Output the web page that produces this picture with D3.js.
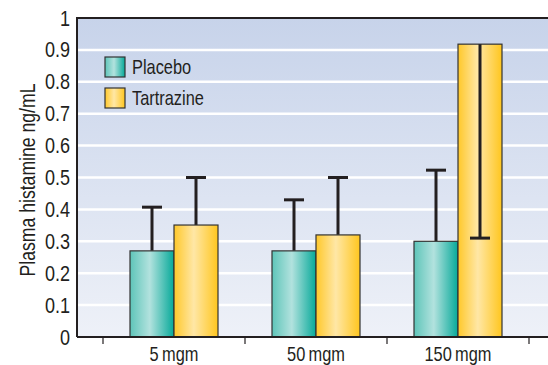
<!DOCTYPE html>
<html>
<head>
<meta charset="utf-8">
<script src="https://cdn.jsdelivr.net/npm/d3@7"></script>
<style>
  body { margin: 0; background: #fff; }
  text { font-family: "Liberation Sans", Arial, sans-serif; fill: #231f20; }
</style>
</head>
<body>
<div id="chart"></div>
<script>
/*****************************************************
 * DATA
 *****************************************************/
const doses = ["5\u2009mgm", "50\u2009mgm", "150\u2009mgm"];
const series = ["Placebo", "Tartrazine"];
const placebo = [0.27, 0.27, 0.30];
const placeboErrHigh = [0.407, 0.43, 0.523];
const tartrazine = [0.351, 0.32, 0.918];
const tartrazineErrHigh = [0.50, 0.50, null];
const tartrazineErrLow = [null, null, 0.31];
const yTicks = [0, 0.1, 0.2, 0.3, 0.4, 0.5, 0.6, 0.7, 0.8, 0.9, 1];

const width = 548, height = 365;
const margin = { top: 18, right: 0, bottom: 28, left: 77 };
const NARROW = 0.82; // the source uses a condensed Helvetica

const svg = d3.select("#chart").append("svg")
  .attr("width", width)
  .attr("height", height);

const defs = svg.append("defs");

// background gradient
const bg = defs.append("linearGradient").attr("id", "bg")
  .attr("x1", 0).attr("y1", 0).attr("x2", 0).attr("y2", 1);
bg.append("stop").attr("offset", "0%").attr("stop-color", "#c7d3ea");
bg.append("stop").attr("offset", "100%").attr("stop-color", "#eef1f8");

function barGrad(id, left, mid, right) {
  const g = defs.append("linearGradient").attr("id", id)
    .attr("x1", 0).attr("y1", 0).attr("x2", 1).attr("y2", 0);
  g.append("stop").attr("offset", "0%").attr("stop-color", left);
  g.append("stop").attr("offset", "45%").attr("stop-color", mid);
  g.append("stop").attr("offset", "100%").attr("stop-color", right);
}
barGrad("teal", "#5ec5b9", "#b2e2de", "#06a999");
barGrad("gold", "#ffc82a", "#ffe7a6", "#ffc61e");

const fills = { Placebo: "url(#teal)", Tartrazine: "url(#gold)" };

// condensed text: translate + horizontal squeeze
const place = (tx, ty, rot) =>
  `translate(${tx},${ty})${rot ? ` rotate(${rot})` : ""} scale(${NARROW},1)`;

/*****************************************************
 * SCALES
 *****************************************************/
const y = d3.scaleLinear().domain([0, 1]).range([337, 18]);

const x = d3.scaleBand().domain(doses).range([103, 529]);
const xs = d3.scaleBand().domain(series).range([0, 88]);
const groupOffset = (x.bandwidth() - 88) / 2;

/*****************************************************
 * PLOT AREA + GRID
 *****************************************************/
svg.append("rect")
  .attr("x", margin.left).attr("y", y(1))
  .attr("width", width - margin.left).attr("height", y(0) - y(1))
  .attr("fill", "url(#bg)");

svg.append("g")
  .selectAll("line")
  .data(yTicks.filter(d => d > 0 && d < 1))
  .enter().append("line")
  .attr("x1", margin.left).attr("x2", width)
  .attr("y1", d => y(d)).attr("y2", d => y(d))
  .attr("stroke", "#fff").attr("stroke-width", 2.5);

// top and left frame
svg.append("path")
  .attr("d", `M${width},${y(1)}H${margin.left}V${y(0)}`)
  .attr("fill", "none").attr("stroke", "#231f20").attr("stroke-width", 2);

/*****************************************************
 * BARS
 *****************************************************/
const rows = doses.map((d, i) => ({
  dose: d,
  bars: [
    { s: "Placebo", v: placebo[i], hi: placeboErrHigh[i], lo: null },
    { s: "Tartrazine", v: tartrazine[i], hi: tartrazineErrHigh[i], lo: tartrazineErrLow[i] }
  ]
}));

const groups = svg.selectAll(".grp")
  .data(rows).enter().append("g")
  .attr("transform", d => `translate(${x(d.dose) + groupOffset},0)`);

const bar = groups.selectAll(".bar")
  .data(d => d.bars).enter().append("g");

function whisker(g, d, end) {
  const cx = xs(d.s) + xs.bandwidth() / 2;
  g.append("line").attr("x1", cx).attr("x2", cx)
    .attr("y1", y(d.v)).attr("y2", y(end))
    .attr("stroke", "#231f20").attr("stroke-width", 3);
  g.append("line").attr("x1", cx - 10).attr("x2", cx + 10)
    .attr("y1", y(end)).attr("y2", y(end))
    .attr("stroke", "#231f20").attr("stroke-width", 3);
}

// upper whiskers sit above the bar
bar.filter(d => d.hi != null).each(function (d) { whisker(d3.select(this), d, d.hi); });

bar.append("rect")
  .attr("x", d => xs(d.s))
  .attr("y", d => y(d.v))
  .attr("width", xs.bandwidth())
  .attr("height", d => y(0) - y(d.v))
  .attr("fill", d => fills[d.s])
  .attr("stroke", "#333").attr("stroke-width", 1.2);

// lower whisker drawn over the bar
bar.filter(d => d.lo != null).each(function (d) { whisker(d3.select(this), d, d.lo); });

/*****************************************************
 * AXES
 *****************************************************/
svg.append("line")
  .attr("x1", margin.left).attr("x2", width)
  .attr("y1", y(0)).attr("y2", y(0))
  .attr("stroke", "#231f20").attr("stroke-width", 2);

const bounds = doses.map(d => x(d)).concat([x.range()[1]]);
svg.append("g").selectAll("line")
  .data(bounds).enter().append("line")
  .attr("x1", d => d).attr("x2", d => d)
  .attr("y1", y(0)).attr("y2", y(0) + 7)
  .attr("stroke", "#231f20").attr("stroke-width", 1.2);

svg.append("g").selectAll("text")
  .data(doses).enter().append("text")
  .attr("transform", d => place(x(d) + x.bandwidth() / 2, 361))
  .attr("text-anchor", "middle")
  .attr("font-size", 20)
  .text(d => d);

svg.append("g").selectAll("text")
  .data(yTicks).enter().append("text")
  .attr("transform", d => place(70, y(d) + 7.5))
  .attr("text-anchor", "end")
  .attr("font-size", 22)
  .text(d => d3.format("")(d));

svg.append("text")
  .attr("transform", place(35, 180, -90))
  .attr("text-anchor", "middle")
  .attr("font-size", 21.5)
  .text("Plasma histamine ng/mL");

/*****************************************************
 * LEGEND
 *****************************************************/
const legend = svg.append("g").attr("transform", "translate(105,57)");
const li = legend.selectAll("g").data(series).enter().append("g")
  .attr("transform", (d, i) => `translate(0,${i * 31})`);
li.append("rect")
  .attr("width", 20).attr("height", 20)
  .attr("fill", d => fills[d])
  .attr("stroke", "#333").attr("stroke-width", 1.2);
li.append("text")
  .attr("transform", place(27, 17))
  .attr("font-size", 20)
  .text(d => d);
</script>
</body>
</html>
